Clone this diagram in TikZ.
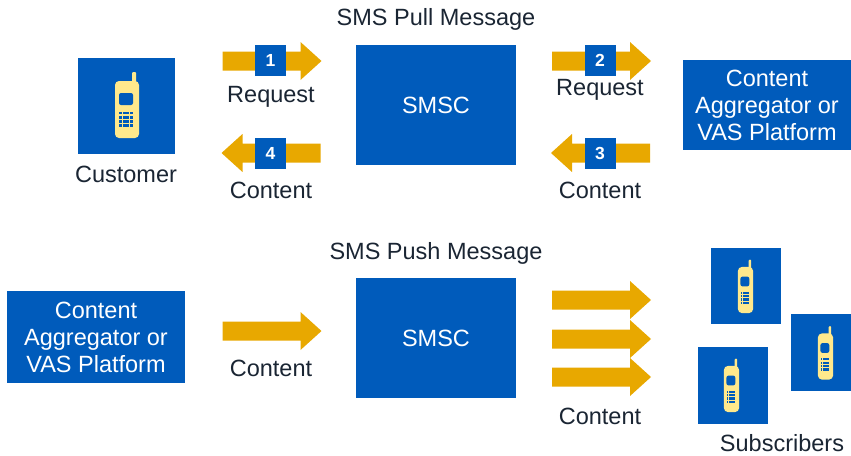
\documentclass[tikz,border=0pt]{standalone}
\usepackage{fontspec}
\setmainfont{Liberation Sans}
\definecolor{smsblue}{RGB}{0,91,187}
\definecolor{arrowgold}{RGB}{232,168,0}
\definecolor{phoneyellow}{RGB}{255,233,140}
\definecolor{labeltext}{RGB}{26,37,51}
\tikzset{
  bluebox/.style={shape=rectangle,fill=smsblue,text=white,align=center,inner sep=0pt,
    font=\fontsize{23.5}{27}\selectfont},
  badge/.style={shape=rectangle,fill=smsblue,text=white,minimum size=31,inner sep=0pt,
    font=\fontsize{17.5}{17.5}\selectfont\bfseries},
  lbl/.style={text=labeltext,inner sep=0pt,font=\fontsize{23.5}{27}\selectfont},
  fatarrow/.pic={
    \fill[arrowgold] (-49,-9.5) -- (29,-9.5) -- (29,-19) -- (50,0) -- (29,19) -- (29,9.5) -- (-49,9.5) -- cycle;
  },
  phone/.pic={
    \fill[phoneyellow,rounded corners=4] (-12,-28.5) rectangle (12,28.5);
    \fill[phoneyellow,rounded corners=1] (5,-37.5) rectangle (9,-26);
    \fill[smsblue,rounded corners=2] (-8,-16.5) rectangle (6,-4.5);
    \foreach \i in {0,...,3}
      \foreach \j in {0,...,3}
        \fill[smsblue] (-7.8+\i*3.6,2+\j*4.2) rectangle ++(2.9,2.9);
  }
}
\begin{document}
\begin{tikzpicture}[x=1pt,y=-1pt]
  \useasboundingbox (0,0) rectangle (851,455);

  % pull
  \node[lbl] (pulltitle) at (436,19) {SMS Pull Message};
  \node[bluebox,minimum width=97,minimum height=96] (cust) at (126.5,106) {};
  \pic at (127,109.5) {phone};
  \node[lbl] (custlbl) at (126,174) {Customer};
  \node[bluebox,minimum width=160,minimum height=120] (smsc1) at (436,105) {SMSC};
  \node[bluebox,minimum width=168,minimum height=90] (vas1) at (767,105) {Content\\Aggregator or\\VAS Platform};

  \pic at (271.5,61) {fatarrow};
  \pic at (601,61) {fatarrow};
  \pic[rotate=180] at (601,153) {fatarrow};
  \pic[rotate=180] at (271.5,153) {fatarrow};
  \node[badge] (b1) at (270.5,60.5) {1};
  \node[badge] (b2) at (600,60.5) {2};
  \node[badge] (b3) at (600,153) {3};
  \node[badge] (b4) at (270.5,153) {4};
  \node[lbl] (req1) at (271,97) {Request};
  \node[lbl] (req2) at (600,90) {Request};
  \node[lbl] (con3) at (600,190) {Content};
  \node[lbl] (con4) at (271,190) {Content};

  % push
  \node[lbl] (pushtitle) at (436,253) {SMS Push Message};
  \node[bluebox,minimum width=178,minimum height=92] (vas2) at (96,337) {Content\\Aggregator or\\VAS Platform};
  \node[bluebox,minimum width=160,minimum height=120] (smsc2) at (436,338) {SMSC};
  \pic at (271.5,331) {fatarrow};
  \node[lbl] (con5) at (271,368) {Content};
  \foreach \y in {300,339,377}
    \pic at (601,\y) {fatarrow};
  \node[lbl] (con6) at (600,416) {Content};

  \node[bluebox,minimum width=70,minimum height=76] (subA) at (746,286) {};
  \node[bluebox,minimum width=62,minimum height=77] (subB) at (822,352.5) {};
  \node[bluebox,minimum width=70,minimum height=77] (subC) at (733,385.5) {};
  \pic[xscale=0.63,yscale=0.81] at (745.5,290) {phone};
  \pic[xscale=0.63,yscale=0.81] at (825.5,356.5) {phone};
  \pic[xscale=0.63,yscale=0.81] at (731.5,389) {phone};
  \node[lbl] (sublbl) at (782,443) {Subscribers};
\end{tikzpicture}
\end{document}
